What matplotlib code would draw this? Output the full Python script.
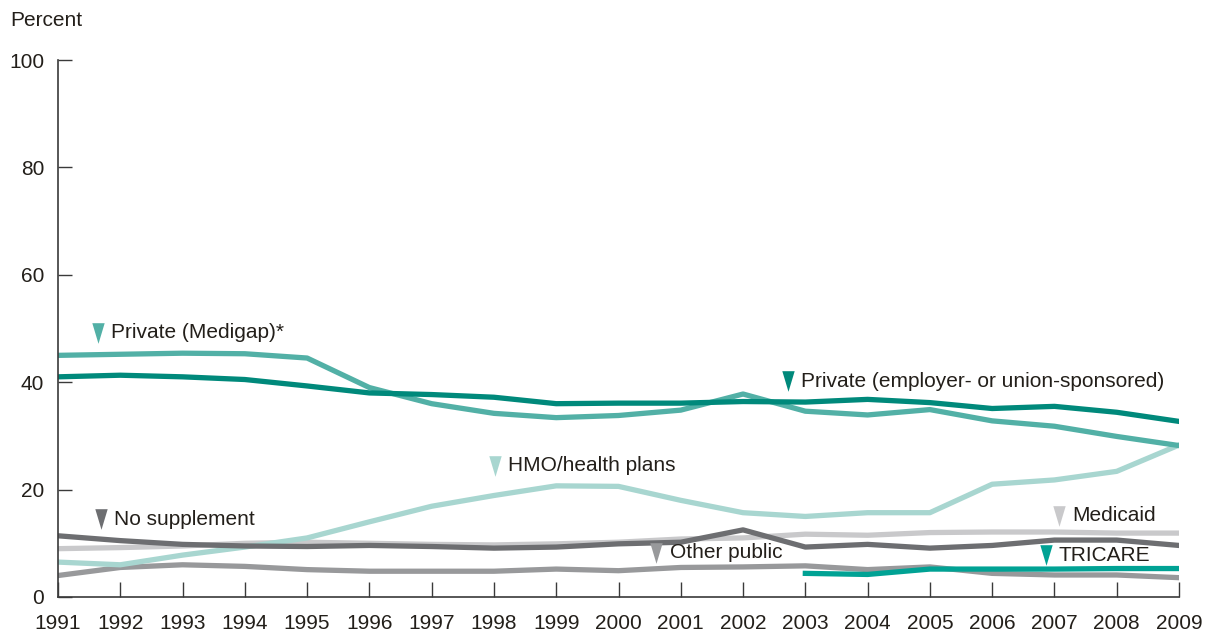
import matplotlib
matplotlib.use("Agg")
import matplotlib.pyplot as plt

years = list(range(1991, 2010))
private_employer = [41, 41.3, 41, 40.5, 39.3, 38, 37.7, 37.2, 36, 36.1, 36.1, 36.4, 36.3, 36.8, 36.2, 35.1, 35.5, 34.4, 32.7]
medigap = [45, 45.2, 45.4, 45.3, 44.5, 39, 36, 34.2, 33.4, 33.8, 34.8, 37.8, 34.6, 33.9, 34.9, 32.8, 31.8, 29.9, 28.2]
hmo = [6.5, 6, 7.8, 9.3, 11, 14, 16.9, 18.9, 20.7, 20.6, 18, 15.7, 15, 15.7, 15.7, 21, 21.8, 23.4, 28.3]
medicaid = [9, 9.2, 9.5, 10, 10.2, 10, 9.8, 9.7, 9.9, 10.2, 10.8, 11, 11.7, 11.5, 12, 12.1, 12.1, 11.9, 11.9]
no_supplement = [11.4, 10.5, 9.8, 9.5, 9.4, 9.6, 9.4, 9.1, 9.3, 9.9, 10.2, 12.5, 9.3, 9.8, 9.1, 9.6, 10.6, 10.6, 9.6]
other_public = [4, 5.5, 6, 5.7, 5.1, 4.8, 4.8, 4.8, 5.2, 4.9, 5.5, 5.6, 5.8, 5.1, 5.6, 4.4, 4.1, 4.1, 3.6]
tricare_years = list(range(2003, 2010))
tricare = [4.4, 4.2, 5.2, 5.2, 5.2, 5.3, 5.3]

C_EMP = "#00897b"
C_MEDIGAP = "#52b0a6"
C_HMO = "#a8d6d0"
C_MEDICAID = "#c9c9cb"
C_NOSUP = "#6d6e71"
C_OTHER = "#98999b"
C_TRI = "#00a294"
TXT = "#231f1a"

plt.rcParams['font.family'] = ['Liberation Sans', 'DejaVu Sans']

fig = plt.figure(figsize=(12.08, 6.33), dpi=100)
ax = fig.add_axes([58/1208, 1-597/633, (1179-58)/1208, (597-60)/633])

lw = 3.8
ax.plot(years, medicaid, color=C_MEDICAID, lw=lw)
ax.plot(years, other_public, color=C_OTHER, lw=lw)
ax.plot(years, hmo, color=C_HMO, lw=lw)
ax.plot(years, no_supplement, color=C_NOSUP, lw=lw)
ax.plot(tricare_years, tricare, color=C_TRI, lw=lw)
ax.plot(years, medigap, color=C_MEDIGAP, lw=lw)
ax.plot(years, private_employer, color=C_EMP, lw=lw)

ax.set_xlim(1991, 2009)
ax.set_ylim(0, 100)
ax.set_xticks(years)
ax.set_yticks([0, 20, 40, 60, 80, 100])
for s in ['top', 'right']:
    ax.spines[s].set_visible(False)
for s in ['left', 'bottom']:
    ax.spines[s].set_color('#3a3a3a')
    ax.spines[s].set_linewidth(1.2)
ax.tick_params(axis='x', direction='in', length=11, width=1.0, color='#3a3a3a',
               labelsize=15, labelcolor=TXT, pad=12)
ax.tick_params(axis='y', direction='in', length=10, width=1.0, color='#3a3a3a',
               labelsize=15, labelcolor=TXT, pad=10)

fig.text(10/1208, 1-20/633, "Percent", fontsize=15, color=TXT, va='center', ha='left')

tri = [(-0.6, 1), (0.6, 1), (0, -1)]
labels = [
    (1991.64, 49.2, "Private (Medigap)*", C_MEDIGAP),
    (2002.72, 40.2, "Private (employer- or union-sponsored)", C_EMP),
    (1998.01, 24.4, "HMO/health plans", C_HMO),
    (1991.69, 14.5, "No supplement", C_NOSUP),
    (2007.08, 15.1, "Medicaid", C_MEDICAID),
    (2000.61, 8.2, "Other public", C_OTHER),
    (2006.86, 7.8, "TRICARE", C_TRI),
]
for x, y, t, c in labels:
    ax.scatter([x], [y], marker=tri, s=220, color=c, zorder=5, clip_on=False, linewidths=0)
    ax.annotate(t, xy=(x, y), xytext=(9.5, 0), textcoords='offset points',
                fontsize=15, color=TXT, va='center', ha='left')

fig.savefig("out.png", dpi=100)
